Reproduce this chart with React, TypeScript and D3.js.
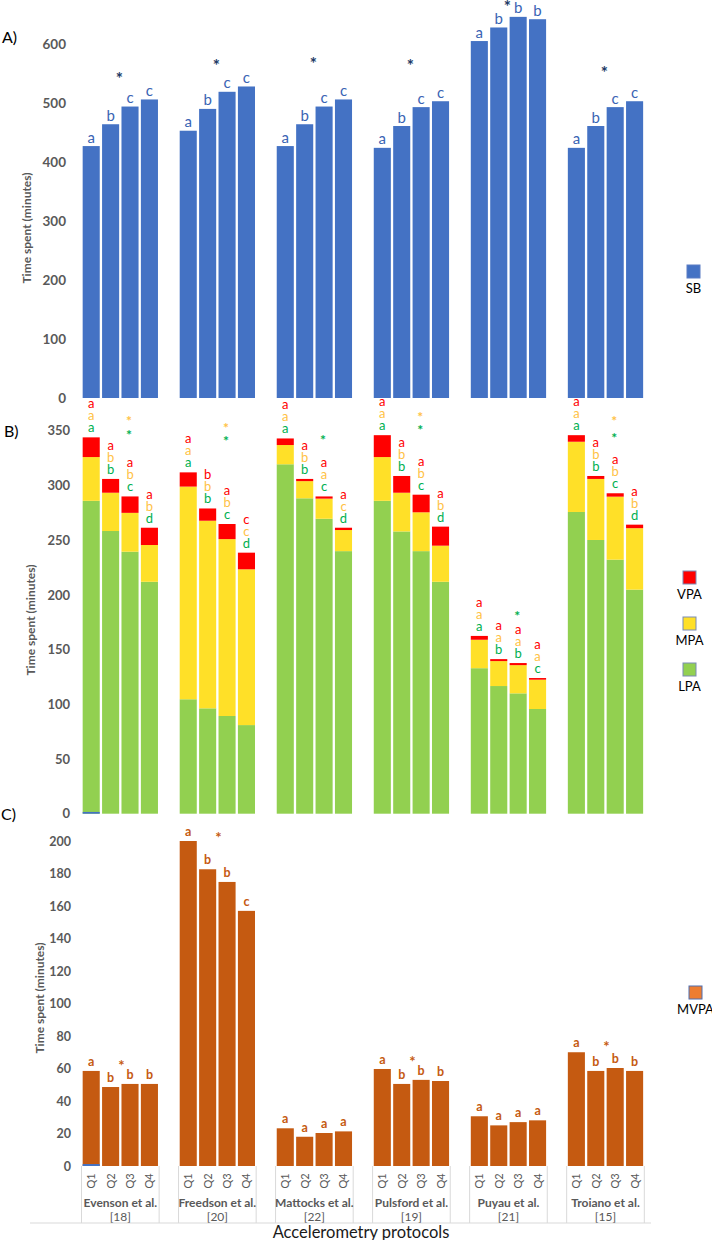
import React from "react";
import * as d3 from "d3";

const protocols = ["Evenson et al.", "Freedson et al.", "Mattocks et al.", "Pulsford et al.", "Puyau et al.", "Troiano et al."];
const protocolRefs = ["[18]", "[20]", "[22]", "[19]", "[21]", "[15]"];
const quartiles = ["Q1", "Q2", "Q3", "Q4"];

// Panel A: sedentary behaviour
const sbValues = [427, 464, 494, 506, 453, 490, 519, 528, 427, 464, 494, 506, 424, 461, 493, 503, 605, 628, 646, 642, 424, 461, 493, 503];
const sbLetters = ["a", "b", "c", "c", "a", "b", "c", "c", "a", "b", "c", "c", "a", "b", "c", "c", "a", "b", "b", "b", "a", "b", "c", "c"];
const sbStarLevel = [546, 568, 571, 568, 668, 556];
const sbTicks = [0, 100, 200, 300, 400, 500, 600];

// Panel B: stacked LPA / MPA / VPA
const lpaValues = [286, 258.4, 239.5, 212, 104.6, 96.3, 89.3, 81, 319.4, 288.3, 269.6, 240, 286, 258, 240, 212, 133, 116.7, 110, 95.7, 275.8, 250.2, 232.2, 204.8];
const mpaValues = [40, 35, 35.5, 33.6, 194.4, 171.5, 161.7, 142.4, 17.6, 15.7, 18.4, 19.3, 40, 35.4, 35.5, 33, 26, 22.8, 25.8, 26.8, 64.2, 55.8, 57.6, 56.2];
const vpaValues = [18, 12.6, 15, 15.8, 13, 11.2, 13.8, 15.2, 6, 2, 2, 2.1, 20, 15.3, 16.1, 17.4, 3.5, 1.8, 1.9, 1.5, 6, 2.7, 3.1, 3.2];
const vpaLetters = ["a", "a", "a", "a", "a", "b", "a", "c", "a", "a", "a", "a", "a", "a", "a", "a", "a", "a", "a", "a", "a", "a", "a", "a"];
const mpaLetters = ["a", "b", "b", "b", "a", "b", "b", "c", "a", "b", "a", "c", "a", "b", "b", "b", "a", "a", "a", "a", "a", "b", "b", "b"];
const lpaLetters = ["a", "b", "c", "d", "a", "b", "c", "d", "a", "b", "c", "d", "a", "b", "c", "d", "a", "b", "b", "c", "a", "b", "c", "d"];
const mpaStarLevel = [361, 355, null, 365, null, 361];
const lpaStarLevel = [349, 343, 344, 353, 183, 346];
const activityTicks = [0, 50, 100, 150, 200, 250, 300, 350];

// Panel C: MVPA
const mvpaValues = [58.5, 48.6, 50.5, 50.5, 200, 182.6, 174.8, 157, 23.2, 18, 20.3, 21.3, 59.7, 50.5, 53, 52.3, 30.6, 25, 27, 28.1, 70, 58.5, 60.3, 58.5];
const mvpaLetters = ["a", "b", "b", "b", "a", "b", "b", "c", "a", "a", "a", "a", "a", "b", "b", "b", "a", "a", "a", "a", "a", "b", "b", "b"];
const mvpaStarLevel = [63.5, 204, null, 66, null, 75];
const mvpaTicks = [0, 20, 40, 60, 80, 100, 120, 140, 160, 180, 200];

// small blue trace visible at the base of the first bar in panels B and C
const traceBarIndex = 0;
const traceValueB = 1.6;
const traceValueC = 1.2;

const C = {
  sb: "#4472C4",
  sbText: "#3A64B4",
  star: "#203864",
  vpa: "#FF0000",
  mpa: "#FFE028",
  lpa: "#92D050",
  vpaText: "#FF0000",
  mpaText: "#FFC245",
  lpaText: "#00B050",
  mvpa: "#C55A11",
  mvpaLegend: "#ED7D31",
  axisText: "#595959",
  grid: "#D9D9D9",
  legendBorder: "#7A8BB5",
};

const FONT = "Lato, 'Liberation Sans', sans-serif";

const slots: string[] = [];
protocols.forEach((_, g) => {
  quartiles.forEach((q) => slots.push(`${g}-${q}`));
  if (g < protocols.length - 1) slots.push(`gap-${g}`);
});

const x = d3.scaleBand<string>().domain(slots).range([81.5, 644.3]).paddingInner(0.12).paddingOuter(0.06);
const bw = x.bandwidth();
const barKey = (i: number) => `${Math.floor(i / 4)}-${quartiles[i % 4]}`;
const barX = (i: number) => x(barKey(i)) as number;
const barCenter = (i: number) => barX(i) + bw / 2;
const groupCenter = (g: number) => (barX(g * 4) + barX(g * 4 + 3) + bw) / 2;

const yA = d3.scaleLinear().domain([0, 600]).range([398, 44]);
const yB = d3.scaleLinear().domain([0, 350]).range([813.7, 430.8]);
const yC = d3.scaleLinear().domain([0, 200]).range([1166, 841]);

function Letter({ cx, cy, t, color, size, weight = 400 }: any) {
  return (
    <text x={cx} y={cy + size * 0.3} textAnchor="middle" fontSize={size} fill={color} fontWeight={weight} fontFamily={FONT}>
      {t}
    </text>
  );
}

function Star({ cx, cy, color, size = 17 }: any) {
  return (
    <text x={cx} y={cy + size * 0.55} textAnchor="middle" fontSize={size} fontWeight={700} fill={color} fontFamily={FONT}>
      *
    </text>
  );
}

function YAxis({ scale, ticks, right, size }: any) {
  return (
    <g>
      {ticks.map((t: number) => (
        <text key={t} x={right} y={scale(t) + size * 0.36} textAnchor="end" fontSize={size} fontWeight={700} fill={C.axisText} fontFamily={FONT}>
          {t}
        </text>
      ))}
    </g>
  );
}

function YTitle({ cx, cy }: any) {
  return (
    <text transform={`translate(${cx},${cy}) rotate(-90)`} textAnchor="middle" fontSize={12} fontWeight={700} fill={C.axisText} fontFamily={FONT} dy="0.35em">
      Time spent (minutes)
    </text>
  );
}

function LegendItem({ x0, y0, fill, label, border = C.legendBorder }: any) {
  return (
    <g>
      <rect x={x0} y={y0} width={13} height={13} fill={fill} stroke={border} strokeWidth={1} />
      <text x={x0 + 6.5} y={y0 + 28} textAnchor="middle" fontSize={13} fill="#000" fontFamily={FONT}>
        {label}
      </text>
    </g>
  );
}

export default function App() {
  const stackB = sbValues.map((_, i) => {
    const l = lpaValues[i];
    const m = mpaValues[i];
    const v = vpaValues[i];
    return { l, m: l + m, v: l + m + v };
  });

  const step = x.step();
  const halfGap = (step * x.paddingInner()) / 2;

  return (
    <svg width={712} height={1240} style={{ position: "absolute", left: 0, top: 0, background: "#fff" }} fontFamily={FONT}>
      <rect x={0} y={0} width={712} height={1240} fill="#fff" />

      {/* Panel labels */}
      <text x={2} y={43} fontSize={16} fill="#000" fontFamily={FONT}>A)</text>
      <text x={4} y={437} fontSize={16} fill="#000" fontFamily={FONT}>B)</text>
      <text x={1} y={820} fontSize={16} fill="#000" fontFamily={FONT}>C)</text>

      {/* ---------- Panel A ---------- */}
      <YAxis scale={yA} ticks={sbTicks} right={66} size={13.5} />
      <YTitle cx={27} cy={228} />
      {sbValues.map((v, i) => (
        <rect key={`a${i}`} x={barX(i)} y={yA(v)} width={bw} height={yA(0) - yA(v)} fill={C.sb} />
      ))}
      {sbValues.map((v, i) => (
        <Letter key={`al${i}`} cx={barCenter(i)} cy={yA(v) - 8} t={sbLetters[i]} color={C.sbText} size={15} />
      ))}
      {sbStarLevel.map((s, g) => (
        <Star key={`as${g}`} cx={groupCenter(g) - 1} cy={yA(s)} color={C.star} />
      ))}
      <LegendItem x0={687} y0={265} fill={C.sb} label="SB" border="#5B7CC4" />

      {/* ---------- Panel B ---------- */}
      <YAxis scale={yB} ticks={activityTicks} right={70} size={13} />
      <YTitle cx={31} cy={620} />
      {stackB.map((s, i) => (
        <g key={`b${i}`}>
          <rect x={barX(i)} y={yB(s.l)} width={bw} height={yB(0) - yB(s.l)} fill={C.lpa} />
          <rect x={barX(i)} y={yB(s.m)} width={bw} height={yB(s.l) - yB(s.m)} fill={C.mpa} />
          <rect x={barX(i)} y={yB(s.v)} width={bw} height={yB(s.m) - yB(s.v)} fill={C.vpa} />
        </g>
      ))}
      <rect x={barX(traceBarIndex)} y={yB(traceValueB)} width={bw} height={yB(0) - yB(traceValueB)} fill={C.sb} />
      {stackB.map((s, i) => {
        const top = yB(s.v);
        return (
          <g key={`bl${i}`}>
            <Letter cx={barCenter(i)} cy={top - 9} t={lpaLetters[i]} color={C.lpaText} size={13} />
            <Letter cx={barCenter(i)} cy={top - 21} t={mpaLetters[i]} color={C.mpaText} size={13} />
            <Letter cx={barCenter(i)} cy={top - 33} t={vpaLetters[i]} color={C.vpaText} size={13} />
          </g>
        );
      })}
      {protocols.map((_, g) => (
        <g key={`bs${g}`}>
          {mpaStarLevel[g] != null && <Star cx={barCenter(g * 4 + 2) - 1} cy={yB(mpaStarLevel[g] as number)} color={C.mpaText} size={14} />}
          <Star cx={barCenter(g * 4 + 2) - 1} cy={yB(lpaStarLevel[g])} color={C.lpaText} size={14} />
        </g>
      ))}
      <LegendItem x0={683} y0={571} fill={C.vpa} label="VPA" />
      <LegendItem x0={683} y0={617} fill={C.mpa} label="MPA" />
      <LegendItem x0={683} y0={663} fill={C.lpa} label="LPA" />

      {/* ---------- Panel C ---------- */}
      <YAxis scale={yC} ticks={mvpaTicks} right={71} size={12.5} />
      <YTitle cx={40} cy={998} />
      {mvpaValues.map((v, i) => (
        <rect key={`c${i}`} x={barX(i)} y={yC(v)} width={bw} height={yC(0) - yC(v)} fill={C.mvpa} />
      ))}
      <rect x={barX(traceBarIndex)} y={yC(traceValueC)} width={bw} height={yC(0) - yC(traceValueC)} fill={C.sb} />
      {mvpaValues.map((v, i) => (
        <Letter key={`cl${i}`} cx={barCenter(i)} cy={yC(v) - 9} t={mvpaLetters[i]} color={C.mvpa} size={12.5} weight={700} />
      ))}
      {mvpaStarLevel.map((s, g) =>
        s == null ? null : <Star key={`cs${g}`} cx={groupCenter(g) + 1} cy={yC(s)} color={C.mvpa} size={15} />
      )}
      <LegendItem x0={689} y0={986} fill={C.mvpaLegend} label="MVPA" border="#4F6EB0" />

      {/* Category axis (multi-level) */}
      <line x1={30} x2={651} y1={1223} y2={1223} stroke={C.grid} strokeWidth={1} />
      {protocols.map((p, g) => {
        const left = barX(g * 4) - halfGap;
        const right = barX(g * 4 + 3) + bw + halfGap;
        const cx = (left + right) / 2;
        return (
          <g key={`ax${g}`}>
            <line x1={left} x2={left} y1={1166} y2={1223} stroke={C.grid} />
            <line x1={right} x2={right} y1={1166} y2={1223} stroke={C.grid} />
            {quartiles.map((q, k) => (
              <text
                key={q}
                transform={`translate(${barCenter(g * 4 + k) + 4},${1181}) rotate(-90)`}
                textAnchor="middle"
                fontSize={11}
                fill={C.axisText}
                fontFamily={FONT}
              >
                {q}
              </text>
            ))}
            <text x={cx} y={1207} textAnchor="middle" fontSize={12} fontWeight={700} fill={C.axisText} fontFamily={FONT}>
              {p}
            </text>
            <text x={cx} y={1221} textAnchor="middle" fontSize={12} fill={C.axisText} fontFamily={FONT}>
              {protocolRefs[g]}
            </text>
          </g>
        );
      })}
      <text x={361} y={1238} textAnchor="middle" fontSize={16.5} fill="#1a1a1a" fontFamily={FONT}>
        Accelerometry protocols
      </text>
    </svg>
  );
}
